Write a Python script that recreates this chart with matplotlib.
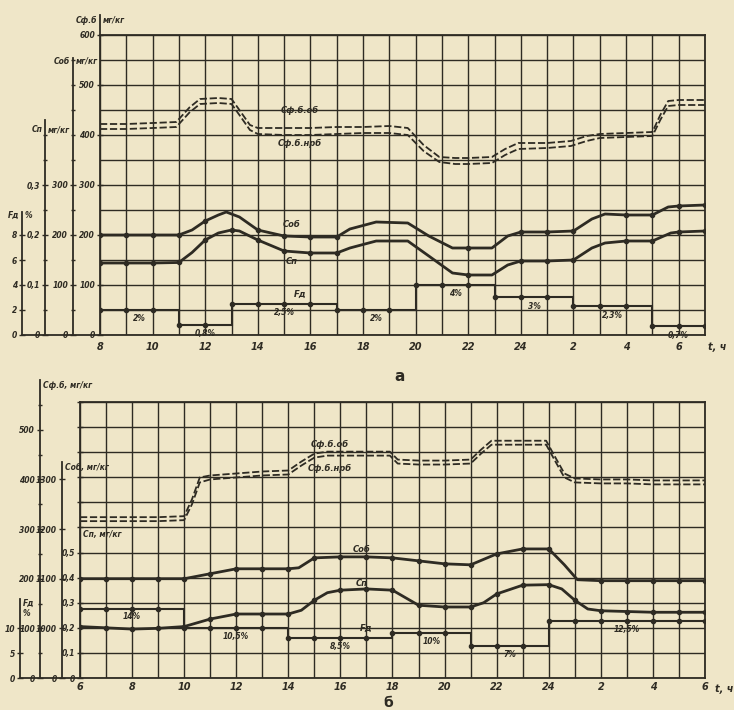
import numpy as np
import matplotlib
matplotlib.use('Agg')
import matplotlib.pyplot as plt

INK = '#2e2b23'
PAPER = '#efe6c8'

# ---- panel a (top) ----
hours_a_ob = [8, 9, 10, 11, 11.5, 12, 12.5, 12.8, 13.3, 14, 15, 16, 17, 17.5, 18.5, 19.7, 20.5, 21.4,
              22, 22.9, 23.5, 24, 25, 26, 26.7, 27.2, 28, 29, 29.6, 30, 31]
c_ob_a = [200, 200, 200, 200, 210, 228, 240, 246, 236, 210, 198, 196, 196, 212, 226, 224, 198, 174,
          174, 174, 198, 206, 206, 208, 232, 242, 240, 240, 256, 258, 260]

hours_a_p = [8, 9, 10, 11, 11.5, 12, 12.5, 13, 13.3, 14, 15, 16, 17, 17.5, 18.5, 19.7, 20.5, 21.4,
             22, 22.9, 23.5, 24, 25, 26, 26.7, 27.2, 28, 29, 29.7, 30, 31]
c_p_a = [0.144, 0.144, 0.144, 0.145, 0.165, 0.19, 0.204, 0.21, 0.208, 0.19, 0.168, 0.164, 0.164,
         0.174, 0.188, 0.188, 0.158, 0.124, 0.12, 0.12, 0.14, 0.148, 0.148, 0.15, 0.174, 0.184,
         0.188, 0.188, 0.204, 0.206, 0.208]

hours_a_fb = [8, 9, 10, 10.9, 11.4, 11.8, 12.5, 13, 13.3, 13.7, 14, 15, 16, 17, 18, 19, 19.7, 20.3,
              20.9, 21.5, 22, 22.9, 23.4, 23.9, 25, 25.9, 26.5, 27, 28, 29, 29.3, 29.6, 30, 31]
fb_ob_a = [422, 422, 424, 426, 455, 472, 474, 472, 450, 420, 414, 414, 414, 416, 416, 418, 414, 380,
           356, 354, 354, 356, 372, 384, 384, 388, 398, 402, 404, 406, 440, 468, 470, 470]
fb_nrb_a = [412, 412, 414, 416, 445, 462, 464, 462, 440, 410, 402, 400, 400, 402, 404, 404, 400, 368,
            346, 342, 342, 344, 360, 372, 374, 378, 388, 394, 396, 398, 430, 458, 460, 460]

fd_edges_a = [8, 11, 13, 17, 20, 23, 26, 29, 31]
fd_a = [2, 0.8, 2.5, 2, 4, 3, 2.3, 0.7]
fd_labels_a = ['2%', '0,8%', '2,5%', '2%', '4%', '3%', '2,3%', '0,7%']
xlabels_a = ['8', '10', '12', '14', '16', '18', '20', '22', '24', '2', '4', '6']

# ---- panel б (bottom) ----
hours_b_fb = [6, 7, 8, 9, 10, 10.3, 10.6, 11, 12, 13, 14, 14.5, 15, 15.5, 16, 17, 17.9, 18.2, 19,
              20, 21, 21.4, 21.8, 22, 23, 23.9, 24.3, 24.6, 25, 26, 27, 28, 29, 30]
fb_ob_b = [324, 324, 324, 324, 326, 360, 404, 408, 412, 416, 418, 436, 452, 456, 456, 456, 456, 440,
           438, 438, 440, 460, 478, 478, 478, 478, 440, 412, 402, 400, 400, 398, 398, 398]
fb_nrb_b = [316, 316, 316, 316, 318, 350, 394, 400, 404, 408, 410, 428, 444, 448, 448, 448, 448, 432,
            430, 430, 432, 452, 470, 470, 470, 470, 432, 404, 394, 392, 392, 390, 390, 390]

hours_b_ob = [6, 7, 8, 9, 10, 11, 12, 13, 14, 14.4, 15, 16, 17, 18, 19, 20, 21, 22, 23, 24, 24.6,
              25.1, 26, 27, 28, 29, 30]
c_ob_b = [1100, 1100, 1100, 1100, 1100, 1110, 1120, 1120, 1120, 1122, 1142, 1144, 1144, 1142, 1136,
          1130, 1128, 1150, 1160, 1160, 1128, 1098, 1096, 1096, 1096, 1096, 1096]

hours_b_p = [6, 7, 8, 9, 10, 11, 12, 13, 14, 14.5, 15, 15.5, 16, 17, 18, 18.5, 19, 20, 21, 21.5, 22,
             23, 24, 24.5, 25, 25.5, 26, 27, 28, 29, 30]
c_p_b = [0.205, 0.2, 0.195, 0.198, 0.205, 0.235, 0.255, 0.255, 0.255, 0.27, 0.31, 0.34, 0.35, 0.355,
         0.35, 0.32, 0.29, 0.283, 0.283, 0.3, 0.335, 0.37, 0.372, 0.355, 0.31, 0.275, 0.268, 0.265,
         0.262, 0.262, 0.262]

fd_edges_b = [6, 10, 14, 18, 21, 24, 30]
fd_b = [14, 10, 8, 9, 6.5, 11.5]
fd_labels_b = ['14%', '10,5%', '8,5%', '10%', '7%', '12,5%']
xlabels_b = ['6', '8', '10', '12', '14', '16', '18', '20', '22', '24', '2', '4', '6']

plt.rcParams.update({
    'font.family': 'DejaVu Sans',
    'font.style': 'italic',
    'font.weight': 'bold',
    'font.size': 6,
    'text.color': INK,
    'axes.edgecolor': INK,
    'axes.linewidth': 1.3,
})

W, H = 734, 710
fig = plt.figure(figsize=(W / 100, H / 100), dpi=100, facecolor=PAPER)


def rect(x0, y0, x1, y1):
    return [x0 / W, 1 - y1 / H, (x1 - x0) / W, (y1 - y0) / H]


def side_axis(host, offset_px, lim, top):
    ax = host.twinx()
    ax.set_ylim(*lim)
    for s in ('right', 'top', 'bottom'):
        ax.spines[s].set_visible(False)
    ax.spines['left'].set_visible(True)
    ax.spines['left'].set_position(('outward', offset_px * 0.72))
    ax.spines['left'].set_bounds(lim[0], top)
    ax.yaxis.set_ticks_position('left')
    ax.tick_params(axis='y', which='both', direction='inout', colors=INK, labelsize=5.5, pad=1)
    ax.tick_params(axis='y', which='major', length=5, width=1)
    ax.tick_params(axis='y', which='minor', length=3, width=1)
    return ax


def axis_title(ax, y, left=None, right=None):
    tr = ax.get_yaxis_transform()
    off = 0
    pos = ax.spines['left'].get_position()
    if pos[0] == 'outward':
        off = -pos[1]
    if left:
        ax.annotate(left, xy=(0, y), xycoords=tr, xytext=(off - 2, 0), textcoords='offset points',
                    ha='right', va='center', fontsize=5.5, annotation_clip=False)
    if right:
        ax.annotate(right, xy=(0, y), xycoords=tr, xytext=(off + 2, 0), textcoords='offset points',
                    ha='left', va='center', fontsize=5.5, annotation_clip=False)


def curve(ax, t, v, lw=2.0):
    t = np.asarray(t, float)
    v = np.asarray(v, float)
    ax.plot(t, v, color=INK, lw=lw, solid_capstyle='round')
    m = np.mod(t, 1) == 0
    ax.plot(t[m], v[m], 'o', color=INK, ms=3)


def steps(ax, edges, levels):
    ax.stairs(levels, edges, baseline=None, color=INK, lw=1.5)
    hrs = np.arange(edges[0], edges[-1] + 1)
    idx = np.clip(np.searchsorted(edges, hrs, side='right') - 1, 0, len(levels) - 1)
    ax.plot(hrs, np.asarray(levels)[idx], 'o', color=INK, ms=3)


def base_grid(ax, xlim, xlabels, pad=5):
    ax.set_facecolor('none')
    ax.set_xlim(*xlim)
    ax.set_xticks(xlim[0] + 2 * np.arange(len(xlabels)), xlabels)
    ax.set_xticks(np.arange(xlim[0], xlim[1] + 1), minor=True)
    ax.grid(which='both', color=INK, lw=1.0)
    ax.tick_params(axis='x', which='both', length=0, pad=pad, labelsize=7, colors=INK)
    ax.tick_params(axis='y', which='both', direction='inout', colors=INK, labelsize=5.5, pad=1)
    ax.tick_params(axis='y', which='major', length=5, width=1)
    ax.tick_params(axis='y', which='minor', length=0)


# ================= panel a =================
ax_a = fig.add_axes(rect(100, 35, 705, 335))
base_grid(ax_a, (8, 31), xlabels_a)
ax_a.set_ylim(0, 600)
ax_a.set_yticks(np.arange(0, 601, 100))
ax_a.set_yticks(np.arange(0, 601, 50), minor=True)
ax_a.spines['left'].set_bounds(0, 640)

ax_a_ob = side_axis(ax_a, 27, (0, 600), 555)
ax_a_ob.set_yticks([0, 100, 200, 300])
ax_a_ob.set_yticks(np.arange(0, 551, 50), minor=True)

ax_a_p = side_axis(ax_a, 55, (0, 0.6), 0.43)
ax_a_p.set_yticks([0, 0.1, 0.2, 0.3], ['0', '0,1', '0,2', '0,3'])
ax_a_p.set_yticks(np.arange(0, 0.43, 0.05), minor=True)

ax_a_fd = side_axis(ax_a, 78, (0, 24), 9.8)
ax_a_fd.set_yticks([0, 2, 4, 6, 8])

axis_title(ax_a, 630, 'Сф.б', 'мг/кг')
axis_title(ax_a_ob, 548, 'Соб', 'мг/кг')
axis_title(ax_a_p, 0.41, 'Сп', 'мг/кг')
axis_title(ax_a_fd, 9.6, 'Fд', '%')
ax_a.plot([-78 / 605, 0], [0, 0], color=INK, lw=1.3, transform=ax_a.transAxes, clip_on=False)

ax_a.plot(hours_a_fb, fb_ob_a, color=INK, lw=1.3, dashes=(4, 1.5))
ax_a.plot(hours_a_fb, fb_nrb_a, color=INK, lw=1.3, dashes=(4, 1.5))
curve(ax_a_ob, hours_a_ob, c_ob_a)
curve(ax_a_p, hours_a_p, c_p_a)
steps(ax_a_fd, fd_edges_a, fd_a)
for i, lab in enumerate(fd_labels_a):
    ax_a_fd.text((fd_edges_a[i] + fd_edges_a[i + 1]) / 2, fd_a[i] - 0.35, lab,
                 ha='center', va='top', fontsize=5.5)
ax_a_fd.text(15.6, 2.9, 'Fд', ha='center', va='bottom', fontsize=6)
ax_a.text(15.6, 440, 'Сф.б.об', ha='center', va='bottom', fontsize=6)
ax_a.text(15.6, 392, 'Сф.б.нрб', ha='center', va='top', fontsize=6)
ax_a_ob.text(15.3, 212, 'Соб', ha='center', va='bottom', fontsize=6)
ax_a_p.text(15.3, 0.155, 'Сп', ha='center', va='top', fontsize=6)
ax_a.annotate('t, ч', xy=(31, 0), xytext=(2, -11), textcoords='offset points', fontsize=7,
              annotation_clip=False)
fig.text(400 / W, 1 - 377 / H, 'а', fontsize=11, ha='center', va='center', style='normal')

# ================= panel б =================
ax_b = fig.add_axes(rect(80, 402, 705, 678))
base_grid(ax_b, (6, 30), xlabels_b, pad=3)
ax_b.set_ylim(0, 1.1)
ax_b.set_yticks(np.arange(0, 1.101, 0.1),
                ['0', '0,1', '0,2', '0,3', '0,4', '0,5', '', '', '', '', '', ''])

ax_b_ob = side_axis(ax_b, 18, (900, 1456), 1336)
ax_b_ob.set_yticks([900, 1000, 1100, 1200, 1300], ['0', '1000', '1100', '1200', '1300'])

ax_b_fb = side_axis(ax_b, 40, (0, 556), 600)
ax_b_fb.set_yticks(np.arange(0, 501, 100))
ax_b_fb.set_yticks(np.arange(0, 551, 50), minor=True)

ax_b_fd = side_axis(ax_b, 60, (0, 55.6), 16)
ax_b_fd.set_yticks([0, 5, 10])

axis_title(ax_b_fb, 590, None, 'Сф.б, мг/кг')
axis_title(ax_b_ob, 1324, None, 'Соб, мг/кг')
axis_title(ax_b, 0.57, None, 'Сп, мг/кг')
axis_title(ax_b_fd, 14, None, 'Fд\n%')
ax_b.plot([-60 / 625, 0], [0, 0], color=INK, lw=1.3, transform=ax_b.transAxes, clip_on=False)

ax_b_fb.plot(hours_b_fb, fb_ob_b, color=INK, lw=1.3, dashes=(4, 1.5))
ax_b_fb.plot(hours_b_fb, fb_nrb_b, color=INK, lw=1.3, dashes=(4, 1.5))
curve(ax_b_ob, hours_b_ob, c_ob_b)
curve(ax_b, hours_b_p, c_p_b)
steps(ax_b_fd, fd_edges_b, fd_b)
for i, lab in enumerate(fd_labels_b):
    ax_b_fd.text((fd_edges_b[i] + fd_edges_b[i + 1]) / 2, fd_b[i] - 0.8, lab,
                 ha='center', va='top', fontsize=5.5)
ax_b_fd.text(17, 9, 'Fд', ha='center', va='bottom', fontsize=6)
ax_b_fb.text(15.6, 462, 'Сф.б.об', ha='center', va='bottom', fontsize=6)
ax_b_fb.text(15.6, 432, 'Сф.б.нрб', ha='center', va='top', fontsize=6)
ax_b_ob.text(16.8, 1150, 'Соб', ha='center', va='bottom', fontsize=6)
ax_b.text(16.8, 0.36, 'Сп', ha='center', va='bottom', fontsize=6)
ax_b.annotate('t, ч', xy=(30, 0), xytext=(7, -10), textcoords='offset points', fontsize=7,
              annotation_clip=False)
fig.text(388 / W, 1 - 703 / H, 'б', fontsize=10, ha='center', va='center', style='normal')

fig.savefig('out.png', dpi=100, facecolor=PAPER)
